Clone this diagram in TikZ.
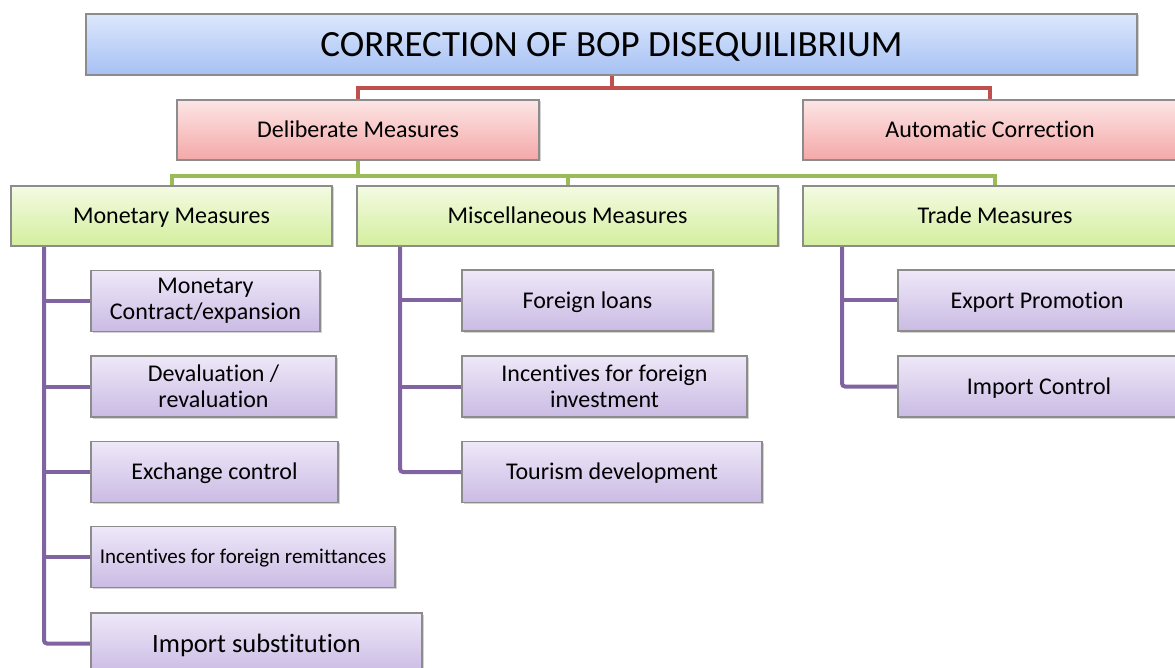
\documentclass[tikz,border=0pt]{standalone}
\usepackage{fontspec}
\setmainfont{Carlito}[RawFeature={-liga;-clig}]
\usetikzlibrary{shadows,calc,backgrounds}
\definecolor{bluetop}{HTML}{DCE7FC}
\definecolor{bluebot}{HTML}{A6C1F4}
\definecolor{pinktop}{HTML}{FDE5E5}
\definecolor{pinkbot}{HTML}{F4A8A8}
\definecolor{greentop}{HTML}{F3FBE2}
\definecolor{greenbot}{HTML}{D4EE9E}
\definecolor{purtop}{HTML}{EEE8F8}
\definecolor{purbot}{HTML}{CABBE4}
\definecolor{boxline}{HTML}{8C8C8C}
\definecolor{redline}{HTML}{C0504D}
\definecolor{greenline}{HTML}{9BBB59}
\definecolor{purline}{HTML}{8064A2}
\tikzset{
  box/.style={draw=boxline, line width=1.2pt, inner sep=0pt, outer sep=0pt,
    align=center, text=black, font=\fontsize{24}{26}\selectfont,
    drop shadow={opacity=0.35, shadow xshift=1.5pt, shadow yshift=-1.5pt}},
  oneline/.style={text height=20pt, text depth=4.6pt},
  bluebox/.style={box, top color=bluetop, bottom color=bluebot},
  pinkbox/.style={box, oneline, top color=pinktop, bottom color=pinkbot, minimum height=60pt},
  greenbox/.style={box, oneline, top color=greentop, bottom color=greenbot, minimum height=60pt},
  purbox/.style={box, top color=purtop, bottom color=purbot, minimum height=61pt},
  redconn/.style={draw=redline, line width=4pt},
  greenconn/.style={draw=greenline, line width=4pt},
  purconn/.style={draw=purline, line width=4pt, rounded corners=3pt},
}
\begin{document}
\begin{tikzpicture}[x=1pt,y=-1pt]
\useasboundingbox (0,0) rectangle (1175,668);
\clip (0,0) rectangle (1175,668);

\node[bluebox, text height=30pt, text depth=6.2pt, minimum width=1051pt, minimum height=61pt, font=\fontsize{37}{40}\selectfont] (title) at (611.5,44.5) {CORRECTION OF BOP DISEQUILIBRIUM};
\node[pinkbox, minimum width=362pt] (delib) at (358,130) {Deliberate Measures};
\node[pinkbox, minimum width=374pt] (auto) at (990,130) {Automatic Correction};
\node[greenbox, minimum width=321pt] (mon) at (171.5,216) {Monetary Measures};
\node[greenbox, minimum width=421pt] (misc) at (567.5,216) {Miscellaneous Measures};
\node[greenbox, minimum width=384pt] (trade) at (995,216) {Trade Measures};

\node[purbox, minimum width=229pt] (m1) at (205.5,301) {Monetary\\Contract/expansion};
\node[purbox, minimum width=245pt] (m2) at (213.5,386.5) {Devaluation /\\revaluation};
\node[purbox, oneline, minimum width=247pt] (m3) at (214.5,472) {Exchange control};
\node[purbox, text height=17pt, text depth=3.5pt, minimum width=304pt, font=\fontsize{21}{24}\selectfont] (m4) at (243,557) {Incentives for foreign remittances};
\node[purbox, text height=22pt, text depth=5pt, minimum width=331pt, font=\fontsize{26.5}{28}\selectfont] (m5) at (256.5,643.5) {Import substitution};

\node[purbox, oneline, minimum width=251pt] (s1) at (587.5,300.5) {Foreign loans};
\node[purbox, minimum width=285pt] (s2) at (604.5,386.5) {Incentives for foreign\\investment};
\node[purbox, oneline, minimum width=300pt] (s3) at (612,472) {Tourism development};

\node[purbox, oneline, minimum width=278pt] (t1) at (1037,300.5) {Export Promotion};
\node[purbox, oneline, minimum width=282pt] (t2) at (1039,386.5) {Import Control};

\begin{pgfonlayer}{background}
% red connectors
\coordinate (rj) at ($(title.south)+(0,13)$);
\draw[redconn] (title.south) -- (rj);
\draw[redconn] (delib.north) -- ++(0,-12) -| (auto.north);

% green connectors
\coordinate (gj) at ($(delib.south)+(0,16)$);
\draw[greenconn] (delib.south) -- (gj);
\draw[greenconn] (mon.north) -- ++(0,-10) -| (trade.north);
\draw[greenconn] (misc.north) -- ++(0,-10);

% purple connectors
\coordinate (mt) at ($(mon.south west)+(33,0)$);
\draw[purconn] (mt) |- (m5.west);
\foreach \n in {m1,m2,m3,m4} \draw[purconn] (\n.west) -- (\n.west -| mt);
\coordinate (st) at ($(misc.south west)+(43,0)$);
\draw[purconn] (st) |- (s3.west);
\foreach \n in {s1,s2} \draw[purconn] (\n.west) -- (\n.west -| st);
\coordinate (tt) at ($(trade.south west)+(39,0)$);
\draw[purconn] (tt) |- (t2.west);
\draw[purconn] (t1.west) -- (t1.west -| tt);
\end{pgfonlayer}
\end{tikzpicture}
\end{document}
